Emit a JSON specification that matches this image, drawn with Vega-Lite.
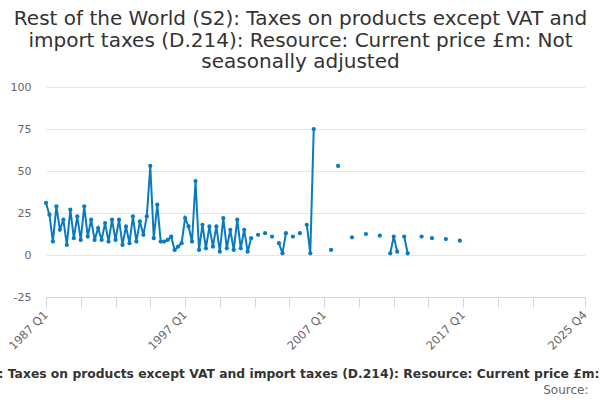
{
  "$schema": "https://vega.github.io/schema/vega-lite/v6.json",
  "width": 539,
  "height": 210,
  "autosize": {"type": "none"},
  "padding": {"left": 46, "top": 87, "right": 15, "bottom": 103},
  "background": "white",
  "config": {"view": {"stroke": null}, "font": "DejaVu Sans"},
  "title": {
    "text": [
      "Rest of the World (S2): Taxes on products except VAT and",
      "import taxes (D.214): Resource: Current price £m: Not",
      "seasonally adjusted"
    ],
    "font": "DejaVu Sans",
    "fontSize": 20,
    "fontWeight": "normal",
    "color": "#333333",
    "lineHeight": 21.5,
    "anchor": "middle",
    "dx": -15,
    "offset": 9
  },
  "data": {
    "values": [
      {"date": "1987-01-01", "value": 31},
      {"date": "1987-04-01", "value": 24},
      {"date": "1987-07-01", "value": 8},
      {"date": "1987-10-01", "value": 29},
      {"date": "1988-01-01", "value": 15},
      {"date": "1988-04-01", "value": 21},
      {"date": "1988-07-01", "value": 6},
      {"date": "1988-10-01", "value": 27},
      {"date": "1989-01-01", "value": 10},
      {"date": "1989-04-01", "value": 23},
      {"date": "1989-07-01", "value": 9},
      {"date": "1989-10-01", "value": 29},
      {"date": "1990-01-01", "value": 11},
      {"date": "1990-04-01", "value": 21},
      {"date": "1990-07-01", "value": 9},
      {"date": "1990-10-01", "value": 16},
      {"date": "1991-01-01", "value": 9},
      {"date": "1991-04-01", "value": 19},
      {"date": "1991-07-01", "value": 8},
      {"date": "1991-10-01", "value": 21},
      {"date": "1992-01-01", "value": 9},
      {"date": "1992-04-01", "value": 21},
      {"date": "1992-07-01", "value": 6},
      {"date": "1992-10-01", "value": 17},
      {"date": "1993-01-01", "value": 7},
      {"date": "1993-04-01", "value": 23},
      {"date": "1993-07-01", "value": 8},
      {"date": "1993-10-01", "value": 20},
      {"date": "1994-01-01", "value": 12},
      {"date": "1994-04-01", "value": 23},
      {"date": "1994-07-01", "value": 53},
      {"date": "1994-10-01", "value": 10},
      {"date": "1995-01-01", "value": 30},
      {"date": "1995-04-01", "value": 8},
      {"date": "1995-07-01", "value": 8},
      {"date": "1995-10-01", "value": 9},
      {"date": "1996-01-01", "value": 11},
      {"date": "1996-04-01", "value": 3},
      {"date": "1996-07-01", "value": 5},
      {"date": "1996-10-01", "value": 7},
      {"date": "1997-01-01", "value": 22},
      {"date": "1997-04-01", "value": 17},
      {"date": "1997-07-01", "value": 8},
      {"date": "1997-10-01", "value": 44},
      {"date": "1998-01-01", "value": 3},
      {"date": "1998-04-01", "value": 18},
      {"date": "1998-07-01", "value": 4},
      {"date": "1998-10-01", "value": 17},
      {"date": "1999-01-01", "value": 5},
      {"date": "1999-04-01", "value": 17},
      {"date": "1999-07-01", "value": 2},
      {"date": "1999-10-01", "value": 22},
      {"date": "2000-01-01", "value": 4},
      {"date": "2000-04-01", "value": 15},
      {"date": "2000-07-01", "value": 3},
      {"date": "2000-10-01", "value": 21},
      {"date": "2001-01-01", "value": 4},
      {"date": "2001-04-01", "value": 15},
      {"date": "2001-07-01", "value": 2},
      {"date": "2001-10-01", "value": 10},
      {"date": "2002-01-01", "value": null},
      {"date": "2002-04-01", "value": 12},
      {"date": "2002-07-01", "value": null},
      {"date": "2002-10-01", "value": 13},
      {"date": "2003-01-01", "value": null},
      {"date": "2003-04-01", "value": 11},
      {"date": "2003-07-01", "value": null},
      {"date": "2003-10-01", "value": 7},
      {"date": "2004-01-01", "value": 1},
      {"date": "2004-04-01", "value": 13},
      {"date": "2004-07-01", "value": null},
      {"date": "2004-10-01", "value": 11},
      {"date": "2005-01-01", "value": null},
      {"date": "2005-04-01", "value": 13},
      {"date": "2005-07-01", "value": null},
      {"date": "2005-10-01", "value": 18},
      {"date": "2006-01-01", "value": 1},
      {"date": "2006-04-01", "value": 75},
      {"date": "2006-07-01", "value": null},
      {"date": "2006-10-01", "value": null},
      {"date": "2007-01-01", "value": null},
      {"date": "2007-04-01", "value": null},
      {"date": "2007-07-01", "value": 3},
      {"date": "2007-10-01", "value": null},
      {"date": "2008-01-01", "value": 53},
      {"date": "2008-04-01", "value": null},
      {"date": "2008-07-01", "value": null},
      {"date": "2008-10-01", "value": null},
      {"date": "2009-01-01", "value": 10.5},
      {"date": "2009-04-01", "value": null},
      {"date": "2009-07-01", "value": null},
      {"date": "2009-10-01", "value": null},
      {"date": "2010-01-01", "value": 12.5},
      {"date": "2010-04-01", "value": null},
      {"date": "2010-07-01", "value": null},
      {"date": "2010-10-01", "value": null},
      {"date": "2011-01-01", "value": 11.5},
      {"date": "2011-04-01", "value": null},
      {"date": "2011-07-01", "value": null},
      {"date": "2011-10-01", "value": 1},
      {"date": "2012-01-01", "value": 11},
      {"date": "2012-04-01", "value": 2},
      {"date": "2012-07-01", "value": null},
      {"date": "2012-10-01", "value": 11},
      {"date": "2013-01-01", "value": 1},
      {"date": "2013-04-01", "value": null},
      {"date": "2013-07-01", "value": null},
      {"date": "2013-10-01", "value": null},
      {"date": "2014-01-01", "value": 11},
      {"date": "2014-04-01", "value": null},
      {"date": "2014-07-01", "value": null},
      {"date": "2014-10-01", "value": 10},
      {"date": "2015-01-01", "value": null},
      {"date": "2015-04-01", "value": null},
      {"date": "2015-07-01", "value": null},
      {"date": "2015-10-01", "value": 9.5},
      {"date": "2016-01-01", "value": null},
      {"date": "2016-04-01", "value": null},
      {"date": "2016-07-01", "value": null},
      {"date": "2016-10-01", "value": 8.5}
    ]
  },
  "encoding": {
    "x": {
      "field": "date",
      "type": "temporal",
      "scale": {
        "type": "utc",
        "domain": [
          {"year": 1987, "month": 1, "date": 1, "utc": true},
          {"year": 2025, "month": 10, "date": 1, "utc": true}
        ]
      },
      "axis": {
        "values": [
          {"year": 1987, "month": 1, "date": 1, "utc": true},
          {"year": 1989, "month": 7, "date": 1, "utc": true},
          {"year": 1992, "month": 1, "date": 1, "utc": true},
          {"year": 1994, "month": 7, "date": 1, "utc": true},
          {"year": 1997, "month": 1, "date": 1, "utc": true},
          {"year": 1999, "month": 7, "date": 1, "utc": true},
          {"year": 2002, "month": 1, "date": 1, "utc": true},
          {"year": 2004, "month": 7, "date": 1, "utc": true},
          {"year": 2007, "month": 1, "date": 1, "utc": true},
          {"year": 2009, "month": 7, "date": 1, "utc": true},
          {"year": 2012, "month": 1, "date": 1, "utc": true},
          {"year": 2014, "month": 7, "date": 1, "utc": true},
          {"year": 2017, "month": 1, "date": 1, "utc": true},
          {"year": 2019, "month": 7, "date": 1, "utc": true},
          {"year": 2022, "month": 1, "date": 1, "utc": true},
          {"year": 2025, "month": 10, "date": 1, "utc": true}
        ],
        "labelExpr": "utcmonth(datum.value) == 0 && (utcyear(datum.value) - 1987) % 10 == 0 ? utcyear(datum.value) + ' Q1' : (utcyear(datum.value) == 2025 ? '2025 Q4' : '')",
        "labelAngle": -45,
        "labelAlign": "right",
        "labelBaseline": "middle",
        "labelPadding": 6,
        "labelOverlap": false,
        "labelFlush": false,
        "labelColor": "#666666",
        "labelFontSize": 11.5,
        "grid": false,
        "domainColor": "#ccd6eb",
        "tickColor": "#ccd6eb",
        "tickSize": 10,
        "title": "Rest of the World (S2): Taxes on products except VAT and import taxes (D.214): Resource: Current price £m: Not seasonally adjusted",
        "titleX": 261,
        "titleY": 80,
        "titleAlign": "center",
        "titleBaseline": "alphabetic",
        "titleFontSize": 12.33,
        "titleFontWeight": "bold",
        "titleColor": "#333333"
      }
    },
    "y": {
      "field": "value",
      "type": "quantitative",
      "scale": {"domain": [-25, 100], "nice": false, "zero": false},
      "axis": {
        "values": [-25, 0, 25, 50, 75, 100],
        "labelExpr": "'' + datum.value",
        "domain": false,
        "ticks": false,
        "labelPadding": 15,
        "labelColor": "#666666",
        "labelFontSize": 11,
        "gridColor": "#e6e6e6",
        "title": "Source:",
        "titleAngle": 0,
        "titleX": 542,
        "titleY": 306,
        "titleAlign": "right",
        "titleBaseline": "alphabetic",
        "titleFontSize": 12,
        "titleFontWeight": "normal",
        "titleColor": "#666666"
      }
    }
  },
  "layer": [
    {"mark": {"type": "line", "color": "#0a7bc1", "strokeWidth": 2}},
    {"mark": {"type": "point", "filled": true, "color": "#0a7bc1", "size": 18, "opacity": 1}}
  ]
}
